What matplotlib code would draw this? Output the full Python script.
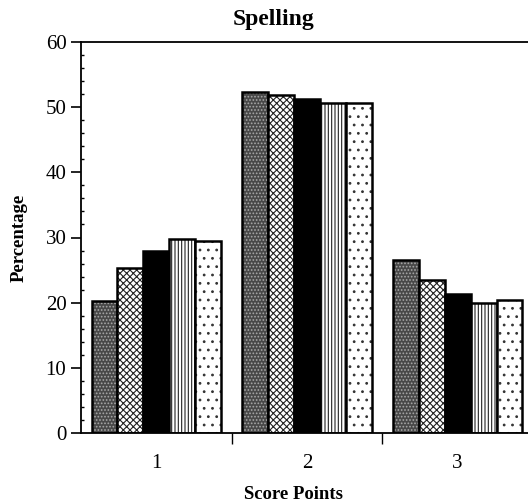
import numpy as np
import matplotlib
matplotlib.use("Agg")
import matplotlib.pyplot as plt

plt.rcParams['font.family'] = ['Liberation Serif', 'DejaVu Serif']
plt.rcParams['hatch.linewidth'] = 0.8

# values
score_points = ['1', '2', '3']
series_1 = [20.3, 52.3, 26.6]
series_2 = [25.3, 51.8, 23.5]
series_3 = [27.9, 51.2, 21.4]
series_4 = [29.8, 50.6, 20.0]
series_5 = [29.5, 50.7, 20.4]
all_series = [series_1, series_2, series_3, series_4, series_5]

# fill, hatch, hatch colour for each series
styles = [
    ('#484848', '.....', '#a8a8a8'),
    ('white', 'xxxxx', '#222222'),
    ('black', None, 'black'),
    ('white', '|||||', '#222222'),
    ('white', '..', '#333333'),
]

fig = plt.figure(figsize=(5.28, 5.04), dpi=100)
ax = fig.add_axes([81 / 528, 1 - 433 / 504, (533 - 81) / 528, (433 - 42) / 504])

x = np.arange(1, len(score_points) + 1)
w = 0.172
for i, (vals, (fc, hatch, hc)) in enumerate(zip(all_series, styles)):
    pos = x + (i - 2) * w
    ax.bar(pos, vals, width=w, color=fc, hatch=hatch, edgecolor=hc, linewidth=0)
    ax.bar(pos, vals, width=w, fill=False, edgecolor='black', linewidth=1.8)

ax.set_xlim(0.5, 3.5)
ax.set_ylim(0, 60)
ax.set_yticks(np.arange(0, 61, 10))
ax.set_yticks(np.arange(0, 61, 2), minor=True)
ax.tick_params(axis='y', which='major', direction='out', length=7, width=1.2, labelsize=15)
ax.tick_params(axis='y', which='minor', direction='in', length=2, width=1)

ax.set_xticks([1.5, 2.5, 3.5])
ax.set_xticklabels([])
ax.set_xticks(x, minor=True)
ax.set_xticklabels(score_points, minor=True)
ax.tick_params(axis='x', which='major', direction='out', length=8, width=1)
ax.tick_params(axis='x', which='minor', length=0, labelsize=15, pad=15)

for s in ax.spines.values():
    s.set_linewidth(1.3)

fig.text(274 / 528, 1 - 19 / 504, 'Spelling', fontsize=17, fontweight='bold',
         ha='center', va='center')
ax.set_xlabel('Score Points', fontsize=13.5, fontweight='bold')
ax.xaxis.set_label_coords((293 - 81) / 452, (433 - 486) / 391)
ax.set_ylabel('Percentage', fontsize=13.5, fontweight='bold', labelpad=13)

fig.savefig('out.png', dpi=100)
